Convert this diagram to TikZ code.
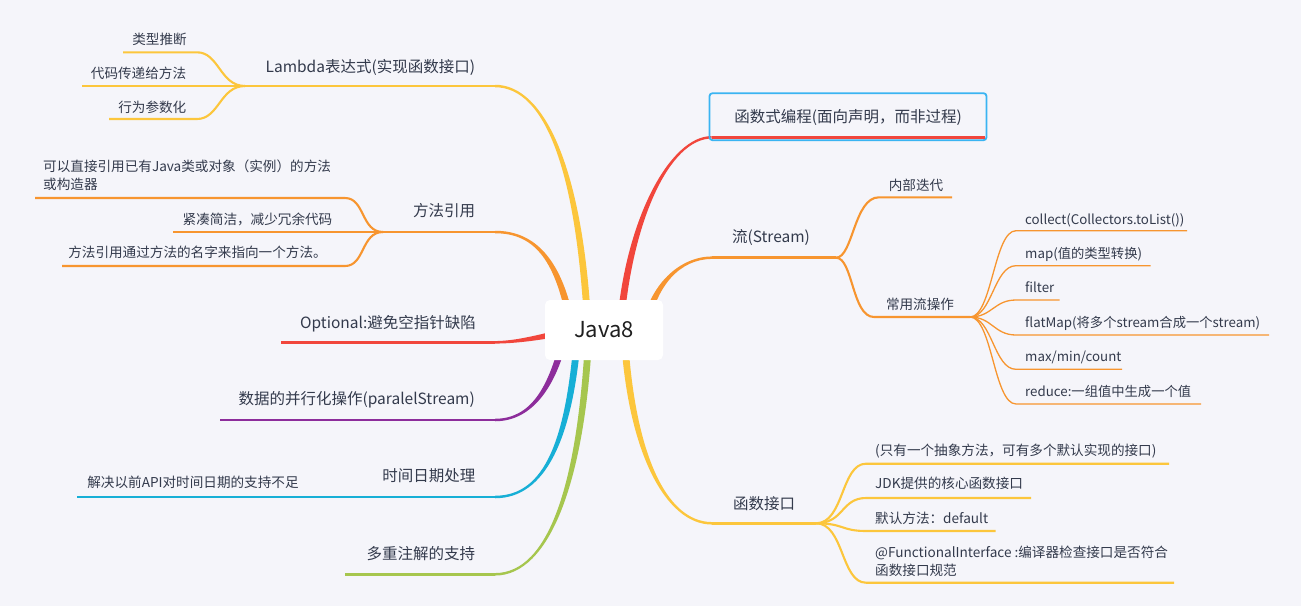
\documentclass[tikz,border=0pt]{standalone}
\usepackage{fontspec}
\setmainfont{Noto Sans CJK SC}
\usetikzlibrary{calc,backgrounds}
\definecolor{bg}{HTML}{F5F5FA}
\definecolor{txt}{HTML}{333A4C}
\definecolor{cYel}{HTML}{FCC63C}
\definecolor{cOra}{HTML}{F7952F}
\definecolor{cRed}{HTML}{F1463C}
\definecolor{cPur}{HTML}{8D2D9B}
\definecolor{cCya}{HTML}{17AFD6}
\definecolor{cGre}{HTML}{A6C64E}
\definecolor{sel}{HTML}{3AB4F2}
% tapered main branch: colour, start, c1, c2, end, start half-normal, end half-normal
\newcommand\mribbon[7]{\fill[#1] ($(#2)+(#6)$) .. controls ($(#3)+(#6)$) and ($(#4)+(#7)$) .. ($(#5)+(#7)$) -- ($(#5)-(#7)$) .. controls ($(#4)-(#7)$) and ($(#3)-(#6)$) .. ($(#2)-(#6)$) -- cycle;}
\begin{document}
\begin{tikzpicture}[x=1pt,y=-1pt,
  l1/.style={font=\fontsize{15.5}{18}\selectfont, text=txt, inner sep=0pt, text height=13.6pt, text depth=1.9pt},
  l2/.style={font=\fontsize{13.6}{18}\selectfont, text=txt, inner sep=0pt, text height=12pt, text depth=1.6pt},
  l2m/.style={font=\fontsize{13.6}{18}\selectfont, text=txt, inner sep=0pt, align=left},
  l3/.style={font=\fontsize{13.3}{16}\selectfont, text=txt, inner sep=0pt, text height=11.7pt, text depth=1.6pt},
  root/.style={fill=white, rounded corners=5pt, minimum width=118pt, minimum height=60pt, inner sep=0pt, font=\fontsize{22}{26}\selectfont, text=black!88},
  ul/.style={line width=2.5pt},
  sub/.style={line width=2.1pt},
  opline/.style={line width=1.3pt, cOra}]
\useasboundingbox (0,0) rectangle (1301,606);

% ---- root
\node[root] (java) at (604,330) {Java8};

% ---- left level 1
\node[l1] (lam) at (370.3,66.7) {Lambda表达式(实现函数接口)};
\coordinate (lam-a) at (245,86); \coordinate (lam-b) at (495,86);
\node[l1] (mr) at (444,210.7) {方法引用};
\coordinate (mr-a) at (383,232); \coordinate (mr-b) at (495,232);
\node[l1] (opt) at (388,322.3) {Optional:避免空指针缺陷};
\coordinate (opt-a) at (281,342.3); \coordinate (opt-b) at (495,342.3);
\node[l1] (par) at (356.7,399) {数据的并行化操作(paralelStream)};
\coordinate (par-a) at (220,420); \coordinate (par-b) at (495,420);
\node[l1] (time) at (428.8,476) {时间日期处理};
\coordinate (time-a) at (362,497); \coordinate (time-b) at (495,497);
\node[l1] (multi) at (420.8,554) {多重注解的支持};
\coordinate (multi-a) at (345,574.3); \coordinate (multi-b) at (495,574.3);

% ---- left level 2
\node[l2] (lam1) at (159.5,39) {类型推断};
\coordinate (lam1-a) at (123,52.3); \coordinate (lam1-b) at (197,52.3);
\node[l2] (lam2) at (138.5,73) {代码传递给方法};
\coordinate (lam2-a) at (82,86);
\node[l2] (lam3) at (152.3,107) {行为参数化};
\coordinate (lam3-a) at (109,119); \coordinate (lam3-b) at (197,119);

\node[l2m, anchor=base west] (mr1) at (43,189.8) {可以直接引用已有Java类或对象（实例）的方法\\或构造器};
\coordinate (mr1-a) at (35,198); \coordinate (mr1-b) at (345,198);
\node[l2] (mr2) at (257.5,219) {紧凑简洁，减少冗余代码};
\coordinate (mr2-a) at (173,232);
\node[l2] (mr3) at (197.5,252.7) {方法引用通过方法的名字来指向一个方法。};
\coordinate (mr3-a) at (62,266); \coordinate (mr3-b) at (345,266);

\node[l2] (time1) at (193,482.7) {解决以前API对时间日期的支持不足};
\coordinate (time1-a) at (77,497);

% ---- right level 1
\node[l1, draw=sel, line width=1.8pt, rounded corners=3pt, minimum width=277pt, minimum height=47pt] (fp) at (848,116.7) {函数式编程(面向声明，而非过程)};
\coordinate (fp-a) at (711.6,137.3); \coordinate (fp-b) at (984.5,137.3);
\node[l1] (st) at (771,237) {流(Stream)};
\coordinate (st-a) at (712,257.7); \coordinate (st-b) at (836,257.7);
\node[l1] (fi) at (764,503.3) {函数接口};
\coordinate (fi-a) at (712,523.3); \coordinate (fi-b) at (816,523.3);

% ---- right level 2
\node[l2] (it) at (916,185) {内部迭代};
\coordinate (it-a) at (879,197.3); \coordinate (it-b) at (952,197.3);
\node[l2] (ops) at (920,304) {常用流操作};
\coordinate (ops-a) at (874,317); \coordinate (ops-b) at (970,317);

\node[l2, anchor=west] (fi1) at (875,450.7) {(只有一个抽象方法，可有多个默认实现的接口)};
\coordinate (fi1-a) at (866,463.7); \coordinate (fi1-b) at (1169,463.7);
\node[l2, anchor=west] (fi2) at (875,483.3) {JDK提供的核心函数接口};
\coordinate (fi2-a) at (866,498); \coordinate (fi2-b) at (1031,498);
\node[l2, anchor=west] (fi3) at (875,518.7) {默认方法：default};
\coordinate (fi3-a) at (866,531); \coordinate (fi3-b) at (995.5,531);
\node[l2m, anchor=base west] (fi4) at (875,575.2) {@FunctionalInterface :编译器检查接口是否符合\\函数接口规范};
\coordinate (fi4-a) at (866,582.7); \coordinate (fi4-b) at (1174,582.7);

% ---- level 3 (stream operations)
\node[l3, anchor=west] (o1) at (1025,219) {collect(Collectors.toList())};
\coordinate (o1-a) at (1016,230.7); \coordinate (o1-b) at (1187,230.7);
\node[l3, anchor=west] (o2) at (1025,253.3) {map(值的类型转换)};
\coordinate (o2-a) at (1016,265.7); \coordinate (o2-b) at (1150.5,265.7);
\node[l3, anchor=west] (o3) at (1025,287.7) {filter};
\coordinate (o3-a) at (1016,300); \coordinate (o3-b) at (1059.6,300);
\node[l3, anchor=west] (o4) at (1025,322.7) {flatMap(将多个stream合成一个stream)};
\coordinate (o4-a) at (1016,335); \coordinate (o4-b) at (1269,335);
\node[l3, anchor=west] (o5) at (1025,356.7) {max/min/count};
\coordinate (o5-a) at (1016,369.3); \coordinate (o5-b) at (1122,369.3);
\node[l3, anchor=west] (o6) at (1025,391.7) {reduce:一组值中生成一个值};
\coordinate (o6-a) at (1016,404); \coordinate (o6-b) at (1201,404);

% ---- branch roots inside the root box
\coordinate (s-lam) at ($(java.center)+(-16,0)$);
\coordinate (s-mr) at ($(java.center)+(-32,0)$);
\coordinate (s-opt) at ($(java.center)+(-29,0)$);
\coordinate (s-par) at ($(java.center)+(-38,0)$);
\coordinate (s-time) at ($(java.center)+(-26,0)$);
\coordinate (s-multi) at ($(java.center)+(-15,0)$);
\coordinate (s-fp) at ($(java.center)+(16,0)$);
\coordinate (s-st) at ($(java.center)+(41,0)$);
\coordinate (s-fi) at ($(java.center)+(20,0)$);

\begin{pgfonlayer}{background}
\fill[bg] (0,0) rectangle (1301,606);
% main tapered branches
\mribbon{cYel}{s-lam}{580,170}{545,86}{lam-b}{3.5,-0.17}{0,-1.25}
\mribbon{cOra}{s-mr}{560,260}{535,232}{mr-b}{3.45,-0.59}{0,-1.25}
\mribbon{cRed}{s-opt}{550,335}{520,342.3}{opt-b}{-0.69,-3.43}{0,-1.25}
\mribbon{cPur}{s-par}{553,390}{530,420}{par-b}{-3.42,-0.74}{0,-1.25}
\mribbon{cCya}{s-time}{570,440}{545,497}{time-b}{-3.49,-0.25}{0,-1.25}
\mribbon{cGre}{s-multi}{582,480}{550,574.3}{multi-b}{-3.5,-0.16}{0,-1.25}
\mribbon{cRed}{s-fp}{628,220}{670,137.3}{fp-a}{3.49,0.25}{0,1.25}
\mribbon{cOra}{s-st}{652,285}{680,257.7}{st-a}{3.46,0.54}{0,1.25}
\mribbon{cYel}{s-fi}{630,450}{665,523.3}{fi-a}{-3.5,0.17}{0,1.25}
\end{pgfonlayer}

% ---- level 1 underlines
\draw[ul,cYel] (lam-a) -- (lam-b);
\draw[ul,cOra] (mr-a) -- (mr-b);
\draw[ul,cRed] (opt-a) -- (opt-b);
\draw[ul,cPur] (par-a) -- (par-b);
\draw[ul,cCya] (time-a) -- (time-b);
\draw[ul,cGre] (multi-a) -- (multi-b);
\draw[ul,cRed] (fp-a) -- (fp-b);
\draw[ul,cOra] (st-a) -- (st-b);
\draw[ul,cYel] (fi-a) -- (fi-b);

% ---- level 2 connectors
\draw[sub,cYel] (lam1-a) -- (lam1-b) .. controls +(22,0) and +(-25,0) .. (lam-a);
\draw[sub,cYel] (lam2-a) -- (lam-a);
\draw[sub,cYel] (lam3-a) -- (lam3-b) .. controls +(22,0) and +(-25,0) .. (lam-a);
\draw[sub,cOra] (mr1-a) -- (mr1-b) .. controls +(20,0) and +(-22,0) .. (mr-a);
\draw[sub,cOra] (mr2-a) -- (mr-a);
\draw[sub,cOra] (mr3-a) -- (mr3-b) .. controls +(20,0) and +(-22,0) .. (mr-a);
\draw[sub,cCya] (time1-a) -- (time-a);

\draw[sub,cOra] (st-b) .. controls +(17,0) and +(-25,0) .. (it-a) -- (it-b);
\draw[sub,cOra] (st-b) .. controls +(17,0) and +(-22,0) .. (ops-a) -- (ops-b);

\foreach \k in {1,2,3,4}{
  \draw[sub,cYel] (fi-b) .. controls +(28,0) and +(-25,0) .. (fi\k-a) -- (fi\k-b);
}
\foreach \k in {1,...,6}{
  \draw[opline] (ops-b) .. controls +(22,0) and +(-22,0) .. (o\k-a) -- (o\k-b);
}
\end{tikzpicture}
\end{document}
